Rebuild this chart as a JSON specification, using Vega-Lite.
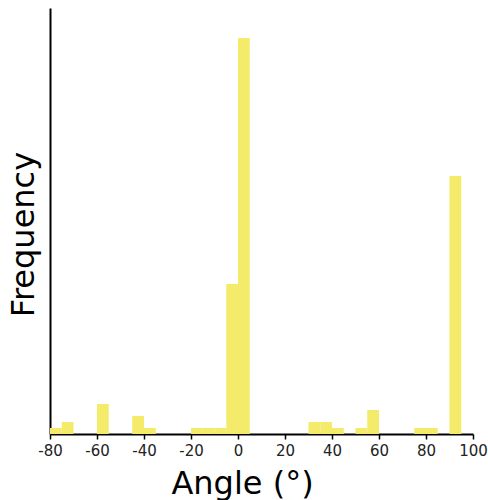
{
  "$schema": "https://vega.github.io/schema/vega-lite/v6.json",
  "width": 423,
  "height": 426,
  "autosize": {"type": "none"},
  "padding": {"left": 50, "top": 8, "right": 15, "bottom": 66},
  "background": "white",
  "config": {"view": {"stroke": null}, "font": "DejaVu Sans"},
  "data": {
    "values": [
      {"bin_start": -80, "bin_end": -75, "count": 1},
      {"bin_start": -75, "bin_end": -70, "count": 2},
      {"bin_start": -60, "bin_end": -55, "count": 5},
      {"bin_start": -45, "bin_end": -40, "count": 3},
      {"bin_start": -40, "bin_end": -35, "count": 1},
      {"bin_start": -20, "bin_end": -15, "count": 1},
      {"bin_start": -15, "bin_end": -10, "count": 1},
      {"bin_start": -10, "bin_end": -5, "count": 1},
      {"bin_start": -5, "bin_end": 0, "count": 25},
      {"bin_start": 0, "bin_end": 5, "count": 66},
      {"bin_start": 30, "bin_end": 35, "count": 2},
      {"bin_start": 35, "bin_end": 40, "count": 2},
      {"bin_start": 40, "bin_end": 45, "count": 1},
      {"bin_start": 50, "bin_end": 55, "count": 1},
      {"bin_start": 55, "bin_end": 60, "count": 4},
      {"bin_start": 75, "bin_end": 80, "count": 1},
      {"bin_start": 80, "bin_end": 85, "count": 1},
      {"bin_start": 90, "bin_end": 95, "count": 43}
    ]
  },
  "mark": {"type": "bar", "color": "#f5eb6a", "opacity": 1, "binSpacing": 0},
  "encoding": {
    "x": {
      "field": "bin_start",
      "type": "quantitative",
      "scale": {"domain": [-80, 100], "nice": false, "zero": false},
      "axis": {
        "title": "Angle (°)",
        "values": [-80, -60, -40, -20, 0, 20, 40, 60, 80, 100],
        "labelExpr": "'' + datum.value",
        "grid": false,
        "domainColor": "black",
        "domainWidth": 2,
        "tickColor": "black",
        "tickWidth": 1.5,
        "tickSize": 5,
        "labelFont": "DejaVu Sans",
        "labelFontSize": 15,
        "labelColor": "#222",
        "labelPadding": 4,
        "labelFlush": false,
        "titleFont": "DejaVu Sans",
        "titleFontSize": 32,
        "titleFontWeight": "normal",
        "titleColor": "black",
        "titlePadding": 10,
        "titleX": 192
      }
    },
    "x2": {"field": "bin_end"},
    "y": {
      "field": "count",
      "type": "quantitative",
      "scale": {"domain": [0, 71], "nice": false},
      "axis": {
        "title": "Frequency",
        "ticks": false,
        "labels": false,
        "grid": false,
        "domainColor": "black",
        "domainWidth": 2,
        "titleFont": "DejaVu Sans",
        "titleFontSize": 32,
        "titleFontWeight": "normal",
        "titleColor": "black",
        "titlePadding": 10,
        "titleY": 226
      }
    },
    "y2": {"datum": 0}
  }
}
